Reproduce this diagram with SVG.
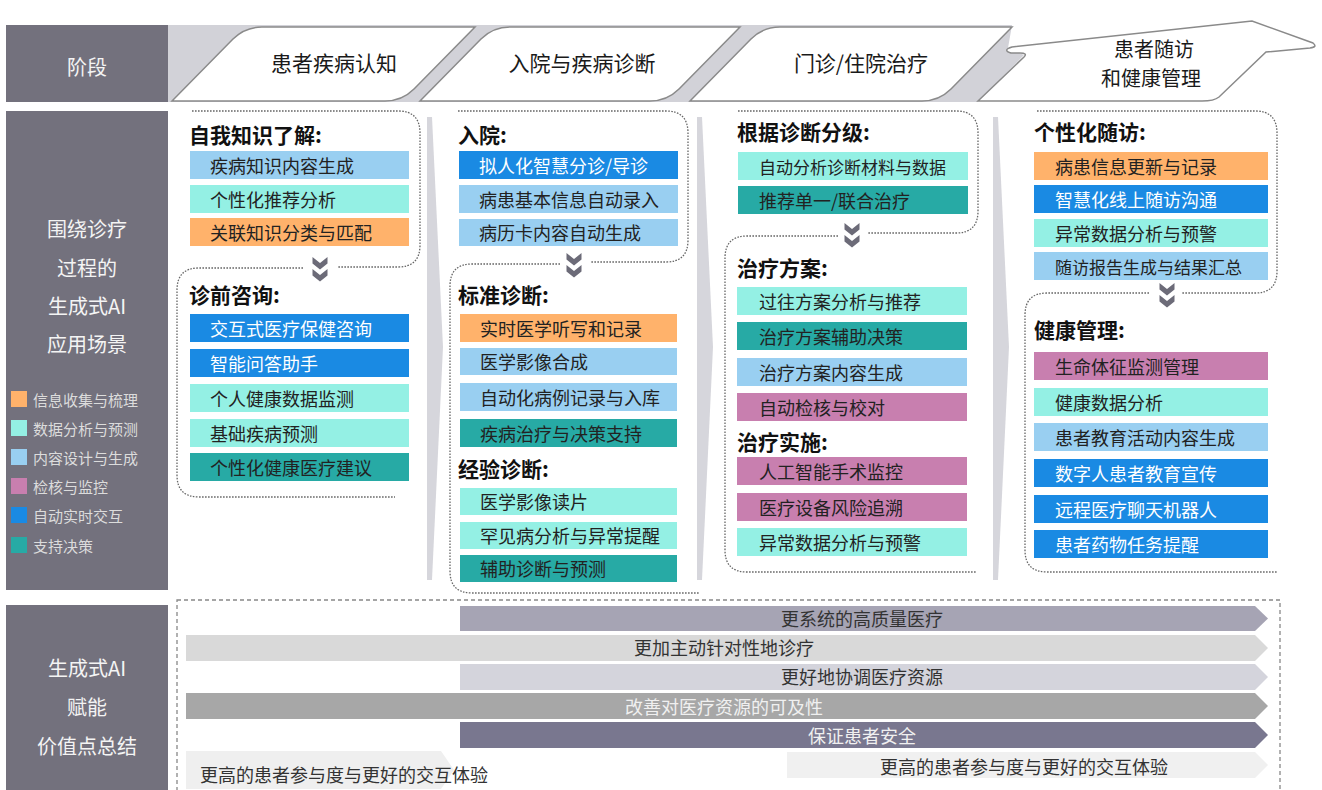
<svg xmlns="http://www.w3.org/2000/svg" width="1322" height="790" viewBox="0 0 1322 790">
<style>
text{font-family:'Noto Sans CJK SC','Noto Sans',sans-serif;dominant-baseline:central}
.side{fill:#73717d}
.sidet{font-size:20px;fill:#f4f4f4;text-anchor:middle}
.tab{fill:#fff;stroke:#8a8a8a;stroke-width:1.5}
.tabt{font-size:21px;fill:#1a1a1a;text-anchor:middle}
.leg{font-size:15px;fill:#dcdcdc}
.ttl{font-size:21px;font-weight:bold;fill:#111}
.bt{font-size:18px;fill:#222}
.bw{font-size:18px;fill:#fff}
.dot{fill:none;stroke:#666;stroke-width:1.3;stroke-dasharray:1.6 1.4}
.sep{fill:#d6d6dc}
.chev{fill:#6c6b78}
.o{fill:#ffb26b}.m{fill:#94f0e4}.l{fill:#99cff1}.p{fill:#c87faf}.b{fill:#1a8ae3}.t{fill:#27aaa5}
.vt{font-size:18px;fill:#333;text-anchor:middle}
.vw{font-size:18px;fill:#f0f0f0;text-anchor:middle}
</style>
<defs>
<g id="chv"><polygon points="-7.5,0 0,6 7.5,0 7.5,6.5 0,12.5 -7.5,6.5"/><polygon points="-7.5,12 0,18 7.5,12 7.5,18.5 0,24.5 -7.5,18.5"/></g>
</defs>
<rect width="1322" height="790" fill="#fff"/>

<!-- header -->
<g id="header">
<rect class="side" x="6" y="25" width="162" height="77"/>
<text class="sidet" x="87" y="66">阶段</text>
<polygon points="168,25 1012,25 1008,48 1024,55 978,102 168,102" fill="#d2d2d8"/>
<path class="tab" d="M172 101 L233 39 Q245 27 262 27 L475 27 L414 89 Q402 101 385 101 Z"/>
<text class="tabt" x="334" y="62">患者疾病认知</text>
<path class="tab" d="M420 101 L481 39 Q493 27 510 27 L740 27 L679 89 Q667 101 650 101 Z"/>
<text class="tabt" x="582" y="62">入院与疾病诊断</text>
<path class="tab" d="M690 101 L751 39 Q763 27 780 27 L1012 27 L951 89 Q939 101 922 101 Z"/>
<text class="tabt" x="861" y="62">门诊/住院治疗</text>
<path class="tab" d="M978 101 L1024 57 Q1028 53 1020 53 L1011 53 Q1002 50 1012 47 L1252 21 L1313 43 Q1318 47 1310 48 L1266 52 L1219 97 Q1214 101 1202 101 Z"/>
<text class="tabt" x="1154" y="48" style="font-size:20px">患者随访</text>
<text class="tabt" x="1151" y="77" style="font-size:20px">和健康管理</text>
</g>

<!-- left label panel -->
<g id="scene-label">
<rect class="side" x="6" y="111" width="162" height="479"/>
<text class="sidet" x="87" y="228">围绕诊疗</text>
<text class="sidet" x="87" y="267">过程的</text>
<text class="sidet" x="87" y="305">生成式AI</text>
<text class="sidet" x="87" y="343">应用场景</text>
<rect class="o" x="11" y="391" width="16" height="16"/><text class="leg" x="33" y="399">信息收集与梳理</text>
<rect class="m" x="11" y="420" width="16" height="16"/><text class="leg" x="33" y="428">数据分析与预测</text>
<rect class="l" x="11" y="449" width="16" height="16"/><text class="leg" x="33" y="457">内容设计与生成</text>
<rect class="p" x="11" y="478" width="16" height="16"/><text class="leg" x="33" y="486">检核与监控</text>
<rect class="b" x="11" y="507" width="16" height="16"/><text class="leg" x="33" y="515">自动实时交互</text>
<rect class="t" x="11" y="537" width="16" height="16"/><text class="leg" x="33" y="545">支持决策</text>
</g>

<!-- separators -->
<g id="separators">
<polygon class="sep" points="427,117 432,117 443,347 432,580 427,580"/>
<polygon class="sep" points="697,117 702,117 713,347 702,580 697,580"/>
<polygon class="sep" points="993,117 998,117 1009,347 998,580 993,580"/>
</g>

<!-- column 1 -->
<g id="col1">
<path class="dot" d="M192 111 H398 Q420 111 420 133 V245 Q420 267 398 267 H338"/>
<path class="dot" d="M303 268 H199 Q177 268 177 290 V475 Q177 497 199 497 H395"/>
<use href="#chv" class="chev" x="320" y="257"/>
<text class="ttl" x="189" y="134">自我知识了解:</text>
<rect class="l" x="190" y="151" width="219" height="28"/><text class="bt" x="210" y="165">疾病知识内容生成</text>
<rect class="m" x="190" y="185" width="219" height="28"/><text class="bt" x="210" y="199">个性化推荐分析</text>
<rect class="o" x="190" y="218" width="219" height="28"/><text class="bt" x="210" y="232">关联知识分类与匹配</text>
<text class="ttl" x="189" y="294">诊前咨询:</text>
<rect class="b" x="190" y="314" width="219" height="28"/><text class="bw" x="210" y="328">交互式医疗保健咨询</text>
<rect class="b" x="190" y="349" width="219" height="28"/><text class="bw" x="210" y="363">智能问答助手</text>
<rect class="m" x="190" y="384" width="219" height="28"/><text class="bt" x="210" y="398">个人健康数据监测</text>
<rect class="m" x="190" y="419" width="219" height="28"/><text class="bt" x="210" y="433">基础疾病预测</text>
<rect class="t" x="190" y="453" width="219" height="28"/><text class="bt" x="210" y="467">个性化健康医疗建议</text>
</g>

<!-- column 2 -->
<g id="col2">
<path class="dot" d="M458 111 H666 Q688 111 688 133 V240 Q688 262 666 262 H590"/>
<path class="dot" d="M560 264 H472 Q450 264 450 286 V571 Q450 593 472 593 H700"/>
<use href="#chv" class="chev" x="574" y="253"/>
<text class="ttl" x="458" y="134">入院:</text>
<rect class="b" x="459" y="151" width="219" height="28"/><text class="bw" x="479" y="165">拟人化智慧分诊/导诊</text>
<rect class="l" x="459" y="185" width="219" height="28"/><text class="bt" x="479" y="199">病患基本信息自动录入</text>
<rect class="l" x="459" y="219" width="219" height="27"/><text class="bt" x="479" y="232">病历卡内容自动生成</text>
<text class="ttl" x="458" y="294">标准诊断:</text>
<rect class="o" x="460" y="314" width="217" height="28"/><text class="bt" x="480" y="328">实时医学听写和记录</text>
<rect class="l" x="460" y="348" width="217" height="27"/><text class="bt" x="480" y="361">医学影像合成</text>
<rect class="l" x="460" y="383" width="217" height="28"/><text class="bt" x="480" y="397">自动化病例记录与入库</text>
<rect class="t" x="460" y="419" width="217" height="28"/><text class="bt" x="480" y="433">疾病治疗与决策支持</text>
<text class="ttl" x="458" y="468">经验诊断:</text>
<rect class="m" x="460" y="488" width="217" height="27"/><text class="bt" x="480" y="501">医学影像读片</text>
<rect class="m" x="460" y="522" width="217" height="27"/><text class="bt" x="480" y="535">罕见病分析与异常提醒</text>
<rect class="t" x="460" y="555" width="217" height="27"/><text class="bt" x="480" y="568">辅助诊断与预测</text>
</g>

<!-- column 3 -->
<g id="col3">
<path class="dot" d="M738 111 H956 Q978 111 978 133 V211 Q978 233 956 233 H867"/>
<path class="dot" d="M838 236 H747 Q725 236 725 258 V550 Q725 572 747 572 H977"/>
<use href="#chv" class="chev" x="852" y="223"/>
<text class="ttl" x="737" y="131">根据诊断分级:</text>
<rect class="m" x="738" y="152" width="230" height="28"/><text class="bt" x="759" y="166" style="font-size:17px">自动分析诊断材料与数据</text>
<rect class="t" x="738" y="186" width="230" height="28"/><text class="bt" x="759" y="200">推荐单一/联合治疗</text>
<text class="ttl" x="737" y="267">治疗方案:</text>
<rect class="m" x="737" y="287" width="230" height="28"/><text class="bt" x="759" y="301">过往方案分析与推荐</text>
<rect class="t" x="737" y="322" width="230" height="28"/><text class="bt" x="759" y="336">治疗方案辅助决策</text>
<rect class="l" x="737" y="358" width="230" height="28"/><text class="bt" x="759" y="372">治疗方案内容生成</text>
<rect class="p" x="737" y="393" width="230" height="28"/><text class="bt" x="759" y="407">自动检核与校对</text>
<text class="ttl" x="737" y="441">治疗实施:</text>
<rect class="p" x="737" y="457" width="230" height="28"/><text class="bt" x="759" y="471">人工智能手术监控</text>
<rect class="p" x="737" y="493" width="230" height="28"/><text class="bt" x="759" y="507">医疗设备风险追溯</text>
<rect class="m" x="737" y="528" width="230" height="28"/><text class="bt" x="759" y="542">异常数据分析与预警</text>
</g>

<!-- column 4 -->
<g id="col4">
<path class="dot" d="M1037 111 H1255 Q1277 111 1277 133 V271 Q1277 293 1255 293 H1182"/>
<path class="dot" d="M1149 293 H1047 Q1025 293 1025 315 V550 Q1025 572 1047 572 H1277"/>
<use href="#chv" class="chev" x="1167" y="283"/>
<text class="ttl" x="1034" y="131">个性化随访:</text>
<rect class="o" x="1034" y="152" width="234" height="28"/><text class="bt" x="1055" y="166">病患信息更新与记录</text>
<rect class="b" x="1034" y="185" width="234" height="28"/><text class="bw" x="1055" y="199">智慧化线上随访沟通</text>
<rect class="m" x="1034" y="219" width="234" height="28"/><text class="bt" x="1055" y="233">异常数据分析与预警</text>
<rect class="l" x="1034" y="252" width="234" height="28"/><text class="bt" x="1055" y="266" style="font-size:17px">随访报告生成与结果汇总</text>
<text class="ttl" x="1034" y="329">健康管理:</text>
<rect class="p" x="1034" y="352" width="234" height="28"/><text class="bt" x="1055" y="366">生命体征监测管理</text>
<rect class="m" x="1034" y="388" width="234" height="28"/><text class="bt" x="1055" y="402">健康数据分析</text>
<rect class="l" x="1034" y="423" width="234" height="28"/><text class="bt" x="1055" y="437">患者教育活动内容生成</text>
<rect class="b" x="1034" y="459" width="234" height="28"/><text class="bw" x="1055" y="473">数字人患者教育宣传</text>
<rect class="b" x="1034" y="495" width="234" height="28"/><text class="bw" x="1055" y="509">远程医疗聊天机器人</text>
<rect class="b" x="1034" y="530" width="234" height="28"/><text class="bw" x="1055" y="544">患者药物任务提醒</text>
</g>

<!-- value summary -->
<g id="value-label">
<rect class="side" x="6" y="605" width="162" height="190"/>
<text class="sidet" x="87" y="667">生成式AI</text>
<text class="sidet" x="87" y="706">赋能</text>
<text class="sidet" x="87" y="745">价值点总结</text>
</g>
<g id="value-bars">
<rect x="177" y="600" width="1103" height="200" fill="none" stroke="#888" stroke-width="1.3" stroke-dasharray="4 3"/>
<path d="M460 606 H1255 L1268 618.5 L1255 631 H460 Z" fill="#a6a4b4"/><text class="vt" x="862" y="618">更系统的高质量医疗</text>
<path d="M186 635 H1255 L1268 648 L1255 661 H186 Z" fill="#d9d9d9"/><text class="vt" x="724" y="647">更加主动针对性地诊疗</text>
<path d="M460 664 H1255 L1268 677 L1255 690 H460 Z" fill="#d4d4dc"/><text class="vt" x="862" y="676">更好地协调医疗资源</text>
<path d="M186 693 H1255 L1268 706 L1255 719 H186 Z" fill="#a7a7a7"/><text class="vw" x="724" y="706">改善对医疗资源的可及性</text>
<path d="M460 722 H1255 L1268 735 L1255 748 H460 Z" fill="#79778f"/><text class="vw" x="862" y="735">保证患者安全</text>
<path d="M186 751 H441 L454 770 L441 789 H186 Z" fill="#efefef"/><text class="vt" x="200" y="774" style="text-anchor:start">更高的患者参与度与更好的交互体验</text>
<path d="M787 752 H1255 L1268 765 L1255 778 H787 Z" fill="#f0f0f0"/><text class="vt" x="1024" y="766">更高的患者参与度与更好的交互体验</text>
</g>
</svg>
